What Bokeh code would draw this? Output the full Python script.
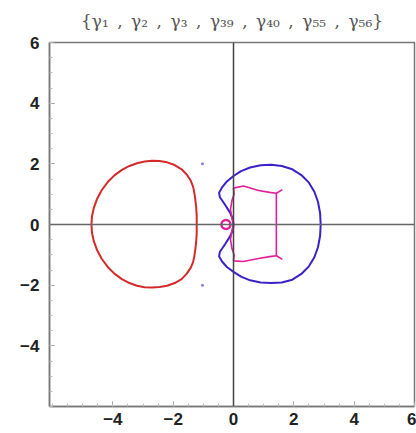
from bokeh.plotting import figure
from bokeh.models import Span, FixedTicker
from bokeh.embed import file_html
from bokeh.resources import INLINE

title_text = "{γ₁\u2002,\u2002γ₂\u2002,\u2002γ₃\u2002,\u2002γ₃₉\u2002,\u2002γ₄₀\u2002,\u2002γ₅₅\u2002,\u2002γ₅₆}"
ticks = [-4, -2, 0, 2, 4, 6]

red_x = [-1.22, -1.22, -1.24, -1.27, -1.30, -1.34, -1.42, -1.55, -1.72, -1.95, -2.20, -2.45, -2.70, -2.95,
         -3.20, -3.45, -3.70, -3.95, -4.17, -4.37, -4.52, -4.63, -4.69, -4.71,
         -4.69, -4.63, -4.52, -4.37, -4.17, -3.95, -3.70, -3.45, -3.20, -2.95, -2.70, -2.45, -2.20,
         -1.95, -1.72, -1.55, -1.42, -1.34, -1.30, -1.27, -1.24, -1.22, -1.22]
red_y = [0.00, 0.30, 0.60, 0.85, 1.05, 1.25, 1.45, 1.65, 1.82, 1.96, 2.05, 2.09, 2.10, 2.08,
         2.02, 1.93, 1.80, 1.62, 1.40, 1.13, 0.85, 0.55, 0.28, 0.00,
         -0.28, -0.55, -0.85, -1.13, -1.40, -1.62, -1.80, -1.93, -2.02, -2.07, -2.08, -2.06, -2.02,
         -1.93, -1.80, -1.62, -1.43, -1.24, -1.05, -0.85, -0.60, -0.30, 0.00]

blue_x = [0.00, -0.03, -0.12, -0.28, -0.45, -0.48, -0.38, -0.22, 0.00, 0.25, 0.55, 0.90, 1.25, 1.60,
          1.95, 2.25, 2.50, 2.68, 2.80, 2.87, 2.89,
          2.87, 2.80, 2.68, 2.50, 2.25, 1.95, 1.60, 1.25, 0.90, 0.55, 0.25, 0.00, -0.22, -0.38,
          -0.48, -0.45, -0.28, -0.12, -0.03, 0.00]
blue_y = [0.00, 0.20, 0.40, 0.65, 0.90, 1.05, 1.22, 1.42, 1.60, 1.76, 1.88, 1.95, 1.97, 1.93,
          1.82, 1.63, 1.38, 1.08, 0.75, 0.38, 0.00,
          -0.38, -0.75, -1.08, -1.38, -1.63, -1.82, -1.91, -1.93, -1.91, -1.84, -1.72, -1.56, -1.40, -1.22,
          -1.05, -0.90, -0.65, -0.40, -0.20, 0.00]

mag_top_x = [1.62, 1.42, 1.20, 0.83, 0.33, 0.00, 0.02, -0.05, -0.10, -0.05, 0.00,
             -0.05, -0.10, -0.05, 0.02, 0.00, 0.33, 0.83, 1.20, 1.42, 1.62]
mag_top_y = [1.15, 1.03, 1.06, 1.12, 1.27, 1.20, 1.00, 0.80, 0.50, 0.20, 0.00,
             -0.20, -0.50, -0.80, -1.00, -1.20, -1.22, -1.12, -1.06, -1.03, -1.15]
mag_right_x = [1.42, 1.42]
mag_right_y = [1.03, -1.03]
mag_ring_x = [-0.25]
mag_ring_y = [0.0]

dot_x = [-1.03, -1.03]
dot_y = [2.0, -2.0]

p = figure(width=416, height=433, output_backend="svg", toolbar_location=None,
           x_range=(-6.1, 6.0), y_range=(-6.0, 6.0),
           min_border_left=49, min_border_right=2, min_border_top=42, min_border_bottom=27,
           title=title_text)
p.title.align = "center"
p.title.vertical_align = "top"
p.title.text_font = "DejaVu Serif"
p.title.text_font_size = "17px"
p.title.text_font_style = "normal"
p.title.text_color = "#555555"
p.title.standoff = 19

p.xgrid.visible = False
p.ygrid.visible = False
p.outline_line_color = "#777777"
p.outline_line_width = 1.5
p.background_fill_color = "white"
p.border_fill_color = "white"

for ax in (p.xaxis[0], p.yaxis[0]):
    ax.ticker = FixedTicker(ticks=ticks, minor_ticks=[v / 2 for v in range(-12, 13)])
    ax.axis_line_color = "#777777"
    ax.axis_line_width = 1.5
    ax.major_tick_in = 5
    ax.major_tick_out = 0
    ax.minor_tick_in = 3
    ax.minor_tick_out = 0
    ax.major_tick_line_color = "#999999"
    ax.minor_tick_line_color = "#bbbbbb"
    ax.major_label_text_font = "Liberation Sans"
    ax.major_label_text_font_style = "bold"
    ax.major_label_text_font_size = "17px"
    ax.major_label_text_color = "#222222"
p.xaxis.major_label_standoff = 6
p.yaxis.major_label_standoff = 10
p.xaxis.major_label_overrides = {t: str(t).replace("-", "\u2212") for t in ticks}
p.yaxis.major_label_overrides = {t: str(t).replace("-", "\u2212") for t in ticks}

p.add_layout(Span(location=0, dimension="width", line_color="#666666", line_width=1.5))
p.add_layout(Span(location=0, dimension="height", line_color="#444444", line_width=1.5))

p.line(red_x, red_y, line_color="#d42a2a", line_width=2)
p.line(blue_x, blue_y, line_color="#3a22c8", line_width=2)
p.line(mag_top_x, mag_top_y, line_color="#e0209c", line_width=1.6)
p.line(mag_right_x, mag_right_y, line_color="#e0209c", line_width=1.6)
p.scatter(mag_ring_x, mag_ring_y, size=9, fill_color="white", line_color="#e0209c", line_width=2.5)
p.scatter(dot_x, dot_y, size=3, fill_color="#8a80e0", line_color=None)

open("out.html", "w").write(file_html(p, INLINE))
